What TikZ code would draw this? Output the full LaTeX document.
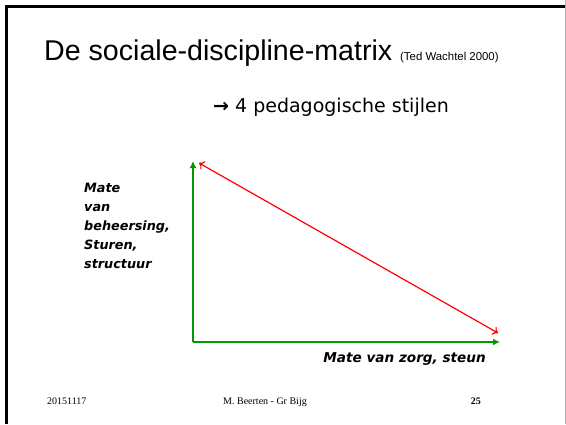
\documentclass[tikz,border=0pt]{standalone}
\usepackage{fontspec}
\setmainfont{Liberation Serif}
\newfontfamily\arialfont{Liberation Sans}
\newfontfamily\comicfont{DejaVu Sans}
\usepackage{tikz}
\usetikzlibrary{arrows.meta,positioning}

\definecolor{axisgreen}{RGB}{0,153,0}

\begin{document}
\begin{tikzpicture}[x=1pt, y=-1pt,
    axis/.style={draw=axisgreen, line width=2pt, -{Latex[length=7pt,width=7pt]}},
    diag/.style={draw=red, line width=1.2pt, {To[length=5pt,width=9pt]}-{To[length=5pt,width=9pt]}},
    comic/.style={font=\comicfont\fontsize{19}{22}\selectfont},
    label/.style={font=\comicfont\bfseries\itshape\fontsize{12.8}{19}\selectfont, align=left},
    foot/.style={font=\fontsize{10}{12}\selectfont, inner sep=0pt}]
  \useasboundingbox (0,0) rectangle (566,424);
  \fill[white] (0,0) rectangle (566,424);
  \draw[line width=3pt] (6,424) -- (6,6) -- (566,6);
  \draw[gray!60, line width=1pt] (565.5,0) -- (565.5,424);

  \node[anchor=base west, inner sep=0pt, font=\arialfont\fontsize{28.6}{32}\selectfont] (title) at (44,60) {De sociale-discipline-matrix};
  \node[anchor=base west, inner sep=0pt, font=\arialfont\fontsize{11.4}{13}\selectfont] (bron) at (400,60) {(Ted Wachtel 2000)};
  \node[comic, anchor=base west, inner sep=0pt] (stijlen) at (213,112) {{\bfseries →} 4 pedagogische stijlen};

  \coordinate (o) at (193,342);
  \coordinate (ytop) at (193,161);
  \coordinate (xend) at (500,342);
  \coordinate (rtop) at (199,163);
  \coordinate (rbot) at (498,333);
  \draw[axis] (o) -- (ytop);
  \draw[axis] (o) -- (xend);
  \draw[diag] (rtop) -- (rbot);

  \node[label, anchor=north west, inner sep=0pt] (yas) at (84,183) {Mate\\van\\beheersing,\\Sturen,\\structuur};
  \node[label, anchor=base east, font=\comicfont\bfseries\itshape\fontsize{13.6}{19}\selectfont, inner sep=0pt] (xas) at (486,362) {Mate van zorg, steun};

  \node[foot, anchor=base west] (datum) at (47,404) {20151117};
  \node[foot, anchor=base] (auteur) at (265,404) {M. Beerten - Gr Bijg};
  \node[foot, anchor=base east, font=\fontsize{10}{12}\selectfont\bfseries] (nr) at (481,404) {25};
\end{tikzpicture}
\end{document}
